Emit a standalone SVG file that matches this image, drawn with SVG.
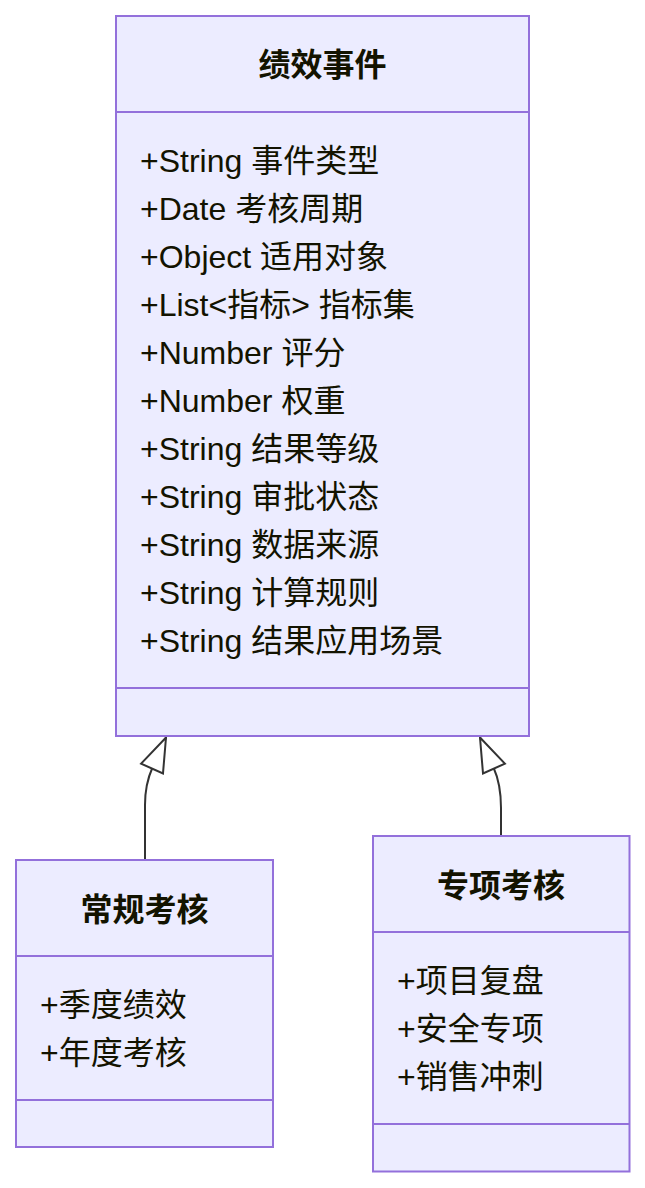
<svg xmlns="http://www.w3.org/2000/svg" width="645" height="1188" viewBox="0 0 645 1188">
<style>
.box{fill:#ECECFF;stroke:#9370DB;stroke-width:2}
.div{stroke:#9370DB;stroke-width:2;fill:none}
.t{font-family:"Liberation Sans","Noto Sans CJK SC",sans-serif;font-size:32px;fill:#131300}
.title{font-weight:bold;text-anchor:middle}
.edge{fill:none;stroke:#333333;stroke-width:2}
</style>
<defs>
<marker id="ext" markerUnits="userSpaceOnUse" orient="auto" refX="0" refY="0" markerWidth="40" markerHeight="30" style="overflow:visible">
<path d="M0,0 L34,-12 L34,12 Z" fill="#ffffff" stroke="#333333" stroke-width="2" stroke-linejoin="miter"/>
</marker>
</defs>
<rect width="645" height="1188" fill="#ffffff"/>
<g id="connectors">
<path class="edge" d="M166,737.5 L152.5,767.5 C148,777.5 145,790 145,805 L145,860" marker-start="url(#ext)"/>
<path class="edge" d="M480,737.5 L493.5,767.5 C498,777.5 501,790 501,808 L501,836" marker-start="url(#ext)"/>
</g>
<g id="node-jixiao">
<rect class="box" x="116" y="16" width="413" height="720"/>
<line class="div" x1="116" y1="112" x2="529" y2="112"/>
<line class="div" x1="116" y1="688" x2="529" y2="688"/>
<text class="t title" x="322.5" y="76">绩效事件</text>
<text class="t" x="140" y="172">+String 事件类型</text>
<text class="t" x="140" y="220">+Date 考核周期</text>
<text class="t" x="140" y="268">+Object 适用对象</text>
<text class="t" x="140" y="316">+List&lt;指标&gt; 指标集</text>
<text class="t" x="140" y="364">+Number 评分</text>
<text class="t" x="140" y="412">+Number 权重</text>
<text class="t" x="140" y="460">+String 结果等级</text>
<text class="t" x="140" y="508">+String 审批状态</text>
<text class="t" x="140" y="556">+String 数据来源</text>
<text class="t" x="140" y="604">+String 计算规则</text>
<text class="t" x="140" y="652">+String 结果应用场景</text>
</g>
<g id="node-changgui">
<rect class="box" x="16" y="860" width="257" height="287"/>
<line class="div" x1="16" y1="956" x2="273" y2="956"/>
<line class="div" x1="16" y1="1100" x2="273" y2="1100"/>
<text class="t title" x="144.5" y="921">常规考核</text>
<text class="t" x="40" y="1016">+季度绩效</text>
<text class="t" x="40" y="1064">+年度考核</text>
</g>
<g id="node-zhuanxiang">
<rect class="box" x="373" y="836" width="256.5" height="335.5"/>
<line class="div" x1="373" y1="932" x2="629.5" y2="932"/>
<line class="div" x1="373" y1="1124" x2="629.5" y2="1124"/>
<text class="t title" x="501" y="897">专项考核</text>
<text class="t" x="397" y="992">+项目复盘</text>
<text class="t" x="397" y="1040">+安全专项</text>
<text class="t" x="397" y="1088">+销售冲刺</text>
</g>
</svg>
